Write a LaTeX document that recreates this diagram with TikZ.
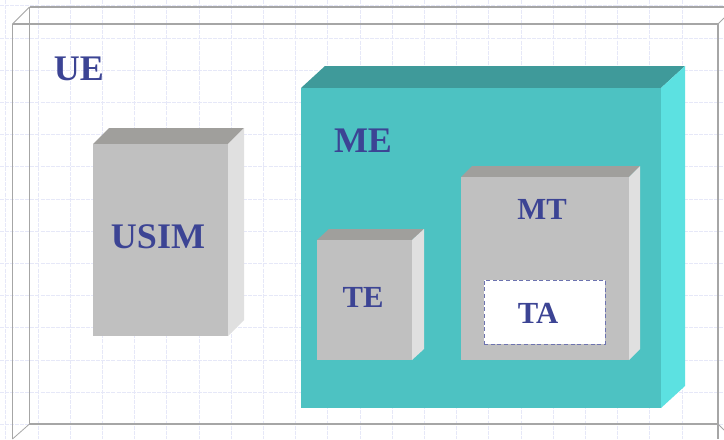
\documentclass[tikz,border=0pt]{standalone}
\usepackage{fontspec}
\setmainfont{Liberation Serif}
\definecolor{ink}{HTML}{3C4494}
\definecolor{gridc}{HTML}{E6E8F8}
\definecolor{frameb}{HTML}{A6A6A6}
\definecolor{grayfront}{HTML}{C0C0C0}
\definecolor{graytop}{HTML}{A09F9C}
\definecolor{grayside}{HTML}{E0E0E0}
\definecolor{tealfront}{HTML}{4DC2C2}
\definecolor{tealtop}{HTML}{3F9A9A}
\definecolor{tealside}{HTML}{5CE1E1}
\tikzset{
  x=0.75pt,y=-0.75pt,
  gridline/.style={draw=gridc,line width=0.6pt,dash pattern=on 3pt off 0.8pt},
  frameline/.style={draw=frameb,line width=0.9pt},
  label/.style={text=ink,font=\bfseries,inner sep=0pt,anchor=center},
}
% front x1,y1,x2,y2; depth dx,dy; colours
\newcommand{\solidbox}[9]{%
  \fill[#8] (#1,#2) -- (#1+#5,#2-#6) -- (#3+#5,#2-#6) -- (#3,#2) -- cycle;
  \fill[#9] (#3,#2) -- (#3+#5,#2-#6) -- (#3+#5,#4-#6) -- (#3,#4) -- cycle;
  \fill[#7] (#1,#2) rectangle (#3,#4);
}
\begin{document}
\begin{tikzpicture}
\useasboundingbox (0,0) rectangle (724,439);
\fill[white] (0,0) rectangle (724,439);
% faint background grid
\foreach \i in {0,...,21} \draw[gridline] ({5.8+32.2*\i},0) -- ({5.8+32.2*\i},439);
\foreach \j in {0,...,13} \draw[gridline] (0,{5.8+32.2*\j}) -- (724,{5.8+32.2*\j});
% room frame
\draw[frameline] (29.5,7) -- (724,7);
\draw[frameline] (29.5,7) -- (29.5,424) -- (718,424);
\draw[frameline] (12.5,24) -- (718,24) -- (718,439);
\draw[frameline] (12.5,24) -- (12.5,439);
\draw[frameb,line width=0.6pt] (12.5,24) -- (29.5,7);
\draw[frameb,line width=0.6pt] (12.5,439) -- (29.5,424);
\draw[frameb,line width=0.6pt] (718,24) -- (724,18);
\draw[frameb,line width=0.6pt] (718,424) -- (724,430);
% solids
\solidbox{93}{144}{228}{336}{16}{16}{grayfront}{graytop}{grayside}
\solidbox{301}{88}{661}{408}{24}{22}{tealfront}{tealtop}{tealside}
\solidbox{317}{240}{412}{360}{12}{11}{grayfront}{graytop}{grayside}
\solidbox{461}{177}{629}{360}{11}{11}{grayfront}{graytop}{grayside}
\node[draw=ink!75,fill=white,line width=0.7pt,densely dashed,minimum width=90.75pt,minimum height=48pt,inner sep=0pt] (ta) at (544.5,312) {};
% labels
\node[label,font=\bfseries\fontsize{27}{27}\selectfont] (ue) at (79,69) {UE};
\node[label,font=\bfseries\fontsize{27}{27}\selectfont] (usim) at (158,237) {USIM};
\node[label,font=\bfseries\fontsize{27}{27}\selectfont] (me) at (363,141) {ME};
\node[label,font=\bfseries\fontsize{23}{23}\selectfont] (te) at (363,297) {TE};
\node[label,font=\bfseries\fontsize{23}{23}\selectfont] (mt) at (542,209) {MT};
\node[label,font=\bfseries\fontsize{23}{23}\selectfont] (talabel) at (538,313) {TA};
\end{tikzpicture}
\end{document}
